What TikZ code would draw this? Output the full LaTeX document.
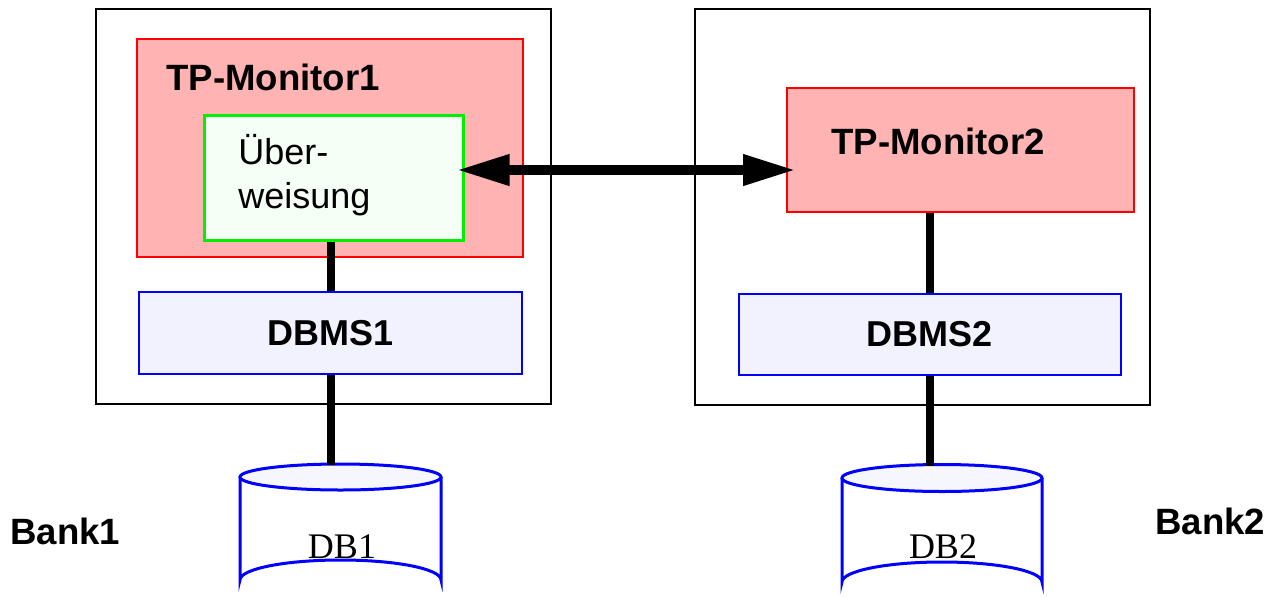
\documentclass[tikz,border=0pt]{standalone}
\usepackage{fontspec}
\setmainfont{Liberation Serif}
\setsansfont{Liberation Sans}
\usetikzlibrary{arrows.meta}

\definecolor{tpred}{RGB}{255,179,179}
\definecolor{uebgreen}{RGB}{0,240,0}
\definecolor{uebfill}{RGB}{246,255,246}
\definecolor{dbmsfill}{RGB}{242,242,255}
\definecolor{dbtop}{RGB}{246,246,255}

\begin{document}
\begin{tikzpicture}[x=0.5pt,y=-0.5pt,
    every node/.style={font=\sffamily\fontsize{18}{22}\selectfont},
    bankbox/.style={draw=black,line width=1pt,inner sep=0pt},
    tpbox/.style={draw=red,fill=tpred,line width=1pt,inner sep=0pt},
    uebbox/.style={draw=uebgreen,fill=uebfill,line width=1.5pt,inner sep=0pt},
    dbmsbox/.style={draw=blue,fill=dbmsfill,line width=1.2pt,inner sep=0pt,font=\sffamily\bfseries\fontsize{18}{22}\selectfont},
    title/.style={inner sep=0pt,font=\sffamily\bfseries\fontsize{18.3}{22}\selectfont},
    link/.style={line width=4pt},
    dbcyl/.style={draw=blue,line width=1.5pt}]
    \clip (0,0) rectangle (1276,596);

    %%% BOXES %%%
    \node[bankbox,minimum width=227.5pt,minimum height=197.5pt] (bank1box) at (323.5,206.5) {};
    \node[bankbox,minimum width=227.5pt,minimum height=198pt] (bank2box) at (922.5,207) {};
    \node[tpbox,minimum width=193pt,minimum height=109pt] (tpm1) at (330,148) {};
    \node[title,anchor=west] (tpm1label) at (166,77) {TP-Monitor1};
    \node[uebbox,minimum width=129.5pt,minimum height=62.5pt] (ueb) at (333.5,177.5) {};
    \node[inner sep=0pt,align=left,anchor=west] (ueblabel) at (238,175) {Über-\\weisung};
    \node[tpbox,minimum width=173.5pt,minimum height=62pt] (tpm2) at (960.5,150) {};
    \node[title,anchor=west] (tpm2label) at (831,141) {TP-Monitor2};
    \node[dbmsbox,minimum width=191.5pt,minimum height=41pt] (dbms1) at (330.5,333) {DBMS1};
    \node[dbmsbox,minimum width=191pt,minimum height=40.5pt] (dbms2) at (930,334.5) {DBMS2};

    %%% DATABASES %%%
    \filldraw[dbcyl,fill=white] (240,477) -- (240,580) arc[start angle=180,end angle=360,x radius=100.5,y radius=20] -- (441,477);
    \filldraw[dbcyl,fill=dbtop] (340.5,477) ellipse[x radius=100.5,y radius=13];
    \filldraw[dbcyl,fill=white] (842,478) -- (842,582) arc[start angle=180,end angle=360,x radius=100,y radius=20] -- (1042,478);
    \filldraw[dbcyl,fill=dbtop] (942,478) ellipse[x radius=100,y radius=13.5];
    \node[font=\rmfamily\fontsize{18}{22}\selectfont] (db1) at (342,547) {DB1};
    \node[font=\rmfamily\fontsize{18}{22}\selectfont] (db2) at (943,547) {DB2};
    \coordinate (db1top) at (330.5,465);
    \coordinate (db2top) at (930,466);

    %%% BANKS %%%
    \node[title,anchor=west] (bank1) at (10,531) {Bank1};
    \node[title,anchor=west] (bank2) at (1155,521) {Bank2};

    %%% CONNECTIONS %%%
    \draw[link] (dbms1.north |- ueb.south) -- (dbms1.north);
    \draw[link] (dbms1.south) -- (db1top);
    \draw[link] (dbms2.north |- tpm2.south) -- (dbms2.north);
    \draw[link] (dbms2.south) -- (db2top);
    \draw[line width=5pt,{Triangle[length=26.5pt,width=14.5pt]}-{Triangle[length=26.5pt,width=14.5pt]}]
        ([xshift=-4pt,yshift=3.75pt]ueb.east) -- ([xshift=5pt,yshift=-10pt]tpm2.west);
\end{tikzpicture}
\end{document}
